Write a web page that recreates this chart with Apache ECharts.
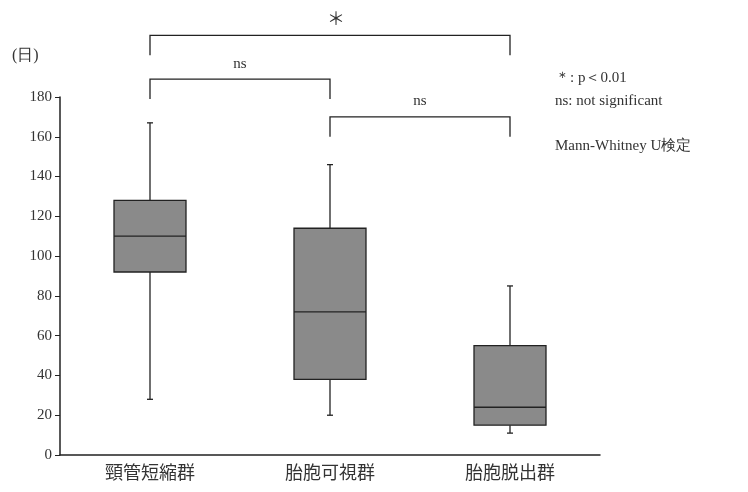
<!DOCTYPE html>
<html><head><meta charset="utf-8">
<script src="https://cdn.jsdelivr.net/npm/echarts@6/dist/echarts.min.js"></script>
<style>html,body{margin:0;padding:0;background:#fff}#c{width:748px;height:492px}</style>
</head><body><div id="c"></div>
<script>
const categories = ['頸管短縮群', '胎胞可視群', '胎胞脱出群'];
// [min, Q1, median, Q3, max]
const boxValues = [
  [28, 92, 110, 128, 167],
  [20, 38, 72, 114, 146],
  [11, 15, 24, 55, 85]
];
const yTicks = [0, 20, 40, 60, 80, 100, 120, 140, 160, 180];
// brackets: [fromCat, toCat, barValue, leftEndValue, rightEndValue]
const brackets = [
  [0, 2, 211, 201, 201],
  [0, 1, 189, 179, 179],
  [1, 2, 170, 160, 160]
];
const bracketLabels = ['＊', 'ns', 'ns'];
const noteLines = ['＊: p＜0.01', 'ns: not significant', 'Mann-Whitney U検定'];
const unitLabel = '(日)';

const serif = '"Liberation Serif","DejaVu Serif",serif';
const cjk = '"Noto Sans CJK JP","Noto Sans CJK SC",sans-serif';

const boxData = boxValues.map((v, i) => [i].concat(v));

const chart = echarts.init(document.getElementById('c'), null, {renderer: 'canvas'});
chart.setOption({
  backgroundColor: '#fff',
  animation: false,
  grid: {left: 60, right: 148, top: 97, bottom: 37, containLabel: false},
  xAxis: {
    type: 'category',
    data: categories,
    axisLine: {lineStyle: {color: '#222', width: 1.5}},
    axisTick: {inside: true, length: 4, lineStyle: {color: '#222'}},
    axisLabel: {fontFamily: cjk, fontSize: 18, color: '#333', margin: 8}
  },
  yAxis: {
    type: 'value',
    min: yTicks[0],
    max: yTicks[yTicks.length - 1],
    interval: 20,
    splitLine: {show: false},
    axisLine: {show: true, lineStyle: {color: '#222', width: 1.5}},
    axisTick: {show: true, length: 5, lineStyle: {color: '#222'}},
    axisLabel: {fontFamily: serif, fontSize: 15, color: '#333', margin: 8}
  },
  series: [
    {
      type: 'custom',
      silent: true,
      data: boxData,
      encode: {x: 0, y: [1, 2, 3, 4, 5]},
      renderItem: function (params, api) {
        const c = api.value(0);
        const pMin = api.coord([c, api.value(1)]);
        const pQ1 = api.coord([c, api.value(2)]);
        const pMed = api.coord([c, api.value(3)]);
        const pQ3 = api.coord([c, api.value(4)]);
        const pMax = api.coord([c, api.value(5)]);
        const x = pMed[0];
        const hw = api.size([1, 0])[0] * 0.2;
        const cap = 3;
        const ls = {stroke: '#222', lineWidth: 1.3};
        return {
          type: 'group',
          children: [
            {type: 'line', shape: {x1: x, y1: pMax[1], x2: x, y2: pQ3[1]}, style: ls},
            {type: 'line', shape: {x1: x, y1: pQ1[1], x2: x, y2: pMin[1]}, style: ls},
            {type: 'line', shape: {x1: x - cap, y1: pMax[1], x2: x + cap, y2: pMax[1]}, style: ls},
            {type: 'line', shape: {x1: x - cap, y1: pMin[1], x2: x + cap, y2: pMin[1]}, style: ls},
            {type: 'rect', shape: {x: x - hw, y: pQ3[1], width: 2 * hw, height: pQ1[1] - pQ3[1]},
             style: {fill: '#8a8a8a', stroke: '#222', lineWidth: 1.3}},
            {type: 'line', shape: {x1: x - hw, y1: pMed[1], x2: x + hw, y2: pMed[1]}, style: ls}
          ]
        };
      }
    },
    {
      type: 'custom',
      clip: false,
      silent: true,
      data: brackets,
      encode: {x: [0, 1], y: [2, 3, 4]},
      renderItem: function (params, api) {
        const a = api.value(0), b = api.value(1);
        const pBarL = api.coord([a, api.value(2)]);
        const pBarR = api.coord([b, api.value(2)]);
        const pL = api.coord([a, api.value(3)]);
        const pR = api.coord([b, api.value(4)]);
        const label = bracketLabels[params.dataIndex];
        return {
          type: 'group',
          children: [
            {type: 'polyline', shape: {points: [pL, pBarL, pBarR, pR]},
             style: {stroke: '#222', lineWidth: 1.3, fill: null}},
            {type: 'text', x: (pBarL[0] + pBarR[0]) / 2 + (label === '＊' ? 6 : 0), y: pBarL[1] - 8,
             style: {text: label, font: (label === '＊' ? '18px ' + cjk : '15px ' + serif),
                     fill: '#333', align: 'center', verticalAlign: 'bottom'}}
          ]
        };
      }
    }
  ],
  graphic: [
    {type: 'text', left: 12, top: 48, style: {text: unitLabel, font: '16px ' + serif, fill: '#333'}},
    {type: 'text', left: 555, top: 71, style: {text: noteLines[0], font: '15px ' + serif, fill: '#333'}},
    {type: 'text', left: 555, top: 94, style: {text: noteLines[1], font: '15px ' + serif, fill: '#333'}},
    {type: 'text', left: 555, top: 139, style: {text: noteLines[2], font: '15px ' + serif, fill: '#333'}}
  ]
});
</script></body></html>
